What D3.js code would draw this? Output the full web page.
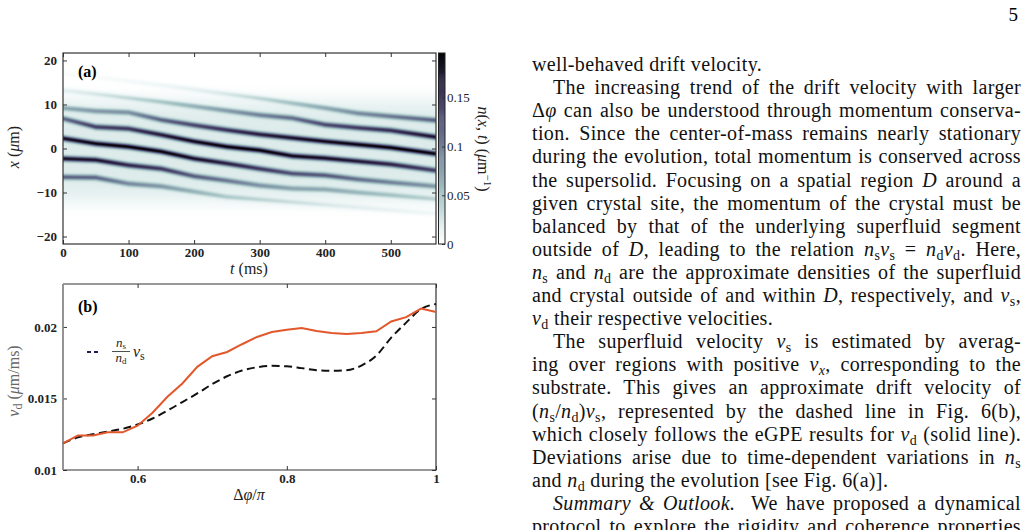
<!DOCTYPE html>
<html>
<head>
<meta charset="utf-8">
<script src="https://cdn.jsdelivr.net/npm/d3@7"></script>
<style>
  body { margin: 0; background: #fff; }
  svg { display: block; }
  text { white-space: pre; }
</style>
</head>
<body>
<svg id="page" width="1029" height="530"></svg>
<script>
"use strict";

// ---- panel (a): band tracks x (um) read at these times (ms)
var heatT  = [0, 50, 100, 150, 200, 250, 300, 350, 400, 450, 500, 569];
var bandN2 = [17.0, 16.2, 15.3, 14.4, 13.4, 12.4, 11.4, 10.3, 9.2, 8.0, 7.3, 6.4];
var bandN1 = [13.2, 12.4, 11.5, 10.6, 9.6, 8.6, 7.6, 6.9, 5.4, 4.7, 4.1, 2.6];
var bandB9 = [9.2, 8.5, 8.2, 6.5, 5.3, 4.2, 3.2, 2.4, 1.6, 0.9, 0.2, -1.2];
var bandB7 = [6.8, 4.9, 4.5, 3.1, 1.6, 0.4, -0.4, -1.7, -2.2, -2.9, -3.6, -5.0];
var bandB2 = [2.3, 1.1, 0.4, -0.7, -2.3, -3.4, -4.6, -5.7, -6.1, -7.0, -7.7, -8.6];
var bandM2 = [-2.3, -2.6, -3.8, -4.6, -6.3, -7.3, -8.4, -9.1, -9.3, -10.0, -10.6, -11.5];
var bandM6 = [-6.5, -6.6, -8.0, -8.6, -9.8, -11.0, -11.6, -12.2, -12.8, -13.4, -14.0, -14.8];
var tTicks = [0, 100, 200, 300, 400, 500];
var xTicks = [-20, -10, 0, 10, 20];
var densTicks = [0, 0.05, 0.1, 0.15];

// ---- panel (b)
var phiVals = [0.50, 0.52, 0.54, 0.56, 0.58, 0.60, 0.62, 0.64, 0.66, 0.68, 0.70, 0.72, 0.74,
               0.76, 0.78, 0.80, 0.82, 0.84, 0.86, 0.88, 0.90, 0.92, 0.94, 0.96, 0.98, 1.00];
var vdVals = [0.01186, 0.01242, 0.01242, 0.01263, 0.01263, 0.01310, 0.01400, 0.01512, 0.01605,
              0.01721, 0.01795, 0.01825, 0.01879, 0.01930, 0.01965, 0.01980, 0.01993, 0.01972,
              0.01958, 0.01950, 0.01958, 0.01970, 0.02038, 0.02068, 0.02128, 0.02104];
var vsVals = [0.01186, 0.01228, 0.01250, 0.01268, 0.01288, 0.01318, 0.01360, 0.01415, 0.01475,
              0.01535, 0.01600, 0.01655, 0.01695, 0.01718, 0.01728, 0.01725, 0.01712, 0.01698,
              0.01693, 0.01697, 0.01730, 0.01800, 0.01925, 0.02030, 0.02125, 0.02160];
var phiTicks = [0.6, 0.8, 1];
var vTicks = [0.01, 0.015, 0.02];

// ---- text column
var textLines = [
    {x: 532, just: false, segs: [["well-behaved drift velocity."]]},
    {x: 553, just: true, segs: [["The increasing trend of the drift velocity with larger"]]},
    {x: 532, just: true, segs: [["Δ"], ["φ", "i"], [" can also be understood through momentum conserva-"]]},
    {x: 532, just: true, segs: [["tion. Since the center-of-mass remains nearly stationary"]]},
    {x: 532, just: true, segs: [["during the evolution, total momentum is conserved across"]]},
    {x: 532, just: true, segs: [["the supersolid. Focusing on a spatial region "], ["D", "i"], [" around a"]]},
    {x: 532, just: true, segs: [["given crystal site, the momentum of the crystal must be"]]},
    {x: 532, just: true, segs: [["balanced by that of the underlying superfluid segment"]]},
    {x: 532, just: true, segs: [["outside of "], ["D", "i"], [", leading to the relation "], ["n", "i"], ["s", "s"], ["v", "i"], ["s", "s"],
        [" = "], ["n", "i"], ["d", "s"], ["v", "i"], ["d", "s"], [". Here,"]]},
    {x: 532, just: true, segs: [["n", "i"], ["s", "s"], [" and "], ["n", "i"], ["d", "s"], [" are the approximate densities of the superfluid"]]},
    {x: 532, just: true, segs: [["and crystal outside of and within "], ["D", "i"], [", respectively, and "], ["v", "i"], ["s", "s"], [","]]},
    {x: 532, just: false, segs: [["v", "i"], ["d", "s"], [" their respective velocities."]]},
    {x: 553, just: true, segs: [["The superfluid velocity "], ["v", "i"], ["s", "s"], [" is estimated by averag-"]]},
    {x: 532, just: true, segs: [["ing over regions with positive "], ["v", "i"], ["x", "si"], [", corresponding to the"]]},
    {x: 532, just: true, segs: [["substrate. This gives an approximate drift velocity of"]]},
    {x: 532, just: true, segs: [["("], ["n", "i"], ["s", "s"], ["/"], ["n", "i"], ["d", "s"], [")"], ["v", "i"], ["s", "s"],
        [", represented by the dashed line in Fig. 6(b),"]]},
    {x: 532, just: true, segs: [["which closely follows the eGPE results for "], ["v", "i"], ["d", "s"], [" (solid line)."]]},
    {x: 532, just: true, segs: [["Deviations arise due to time-dependent variations in "], ["n", "i"], ["s", "s"]]},
    {x: 532, just: false, segs: [["and "], ["n", "i"], ["d", "s"], [" during the evolution [see Fig. 6(a)]."]]},
    {x: 553, just: true, segs: [["Summary & Outlook.", "i"], ["  We have proposed a dynamical"]]},
    {x: 532, just: true, segs: [["protocol to explore the rigidity and coherence properties"]]}
];

var serif = "'Liberation Serif', 'DejaVu Serif', serif";
var svg = d3.select("#page");

//Page number
svg.append("text").attr("x", 1018).attr("y", 21).attr("text-anchor", "end")
    .style("font-family", serif).attr("font-size", 19).text("5");

//Text column, justified by widening the spaces
var col = svg.append("g").style("font-family", serif).attr("font-size", 20)
    .attr("letter-spacing", 0.35).attr("fill", "#111");
textLines.forEach(function (ln, i) {
    var t = col.append("text").attr("x", ln.x).attr("y", 71 + 23.1 * i);
    var off = 0;
    var spaces = 0;
    ln.segs.forEach(function (s) {
        var kind = s[1] || "n";
        var sp = t.append("tspan").text(s[0]);
        var sub = kind === "s" || kind === "si";
        var target = sub ? 4 : 0;
        if (target !== off) {
            sp.attr("dy", target - off);
            off = target;
        }
        if (kind === "i" || kind === "si") sp.attr("font-style", "italic");
        if (sub) sp.attr("font-size", 14);
        spaces += (s[0].match(/ /g) || []).length;
    });
    if (ln.just && spaces > 0) {
        var w = t.node().getComputedTextLength();
        t.attr("word-spacing", (1021 - ln.x - w) / spaces);
    }
});

// ================= panel (a) =================
var ax = {x0: 63, x1: 436, y0: 53, y1: 244};
var tScale = d3.scaleLinear().domain([0, 569]).range([ax.x0, ax.x1]);
var xScale = d3.scaleLinear().domain([-21.7, 21.7]).range([ax.y1, ax.y0]);
var densColor = d3.scaleLinear()
    .domain([0, 0.02, 0.05, 0.09, 0.12, 0.15, 0.175, 0.2])
    .range(["#ffffff", "#e2eeee", "#a8c6c7", "#7c8ea3", "#5d6283", "#433c62", "#231d35", "#000000"])
    .clamp(true);

var bands = [bandN2, bandN1, bandB9, bandB7, bandB2, bandM2, bandM6];
var tracks = bands.map(function (b) {
    return d3.scaleLinear().domain(heatT).range(b);
});
function haze(x) {
    return 0.022 * Math.exp(-Math.pow(Math.abs(x + 0.5) / 12, 6));
}
function bandPeak(p) {
    return 0.175 * Math.exp(-Math.pow(p / 8.5, 2));
}

var cw = ax.x1 - ax.x0, ch = ax.y1 - ax.y0;
var canvas = document.createElement("canvas");
canvas.width = cw;
canvas.height = ch;
var ctx = canvas.getContext("2d");
var img = ctx.createImageData(cw, ch);
for (var i = 0; i < cw; i++) {
    var tt = tScale.invert(ax.x0 + i + 0.5);
    var pos = tracks.map(function (s) { return s(tt); });
    for (var j = 0; j < ch; j++) {
        var xv = xScale.invert(ax.y0 + j + 0.5);
        var v = haze(xv);
        for (var k = 0; k < pos.length; k++) {
            var d = (xv - pos[k]) / 0.42;
            v += bandPeak(pos[k]) * Math.exp(-0.5 * d * d);
        }
        var c = d3.rgb(densColor(v));
        var o = (j * cw + i) * 4;
        img.data[o] = c.r;
        img.data[o + 1] = c.g;
        img.data[o + 2] = c.b;
        img.data[o + 3] = 255;
    }
}
ctx.putImageData(img, 0, 0);

var pa = svg.append("g");
pa.append("image").attr("x", ax.x0).attr("y", ax.y0).attr("width", cw).attr("height", ch)
    .attr("preserveAspectRatio", "none").attr("href", canvas.toDataURL());

function styleAxis(g, bold) {
    g.attr("font-family", null);
    g.select(".domain").remove();
    g.selectAll("line").attr("stroke", "#333");
    g.selectAll("text").style("font-family", serif).attr("font-size", 13)
        .attr("font-weight", bold ? "bold" : "normal").attr("fill", "#222");
}

pa.append("g").attr("transform", "translate(" + ax.x0 + ",0)")
    .call(d3.axisLeft(xScale).tickValues(xTicks).tickSize(-4).tickPadding(6).tickFormat(d3.format("d")))
    .call(styleAxis, true);
pa.append("g").attr("transform", "translate(" + ax.x1 + ",0)")
    .call(d3.axisRight(xScale).tickValues(xTicks).tickSize(-4).tickFormat(""))
    .call(styleAxis, true);
pa.append("g").attr("transform", "translate(0," + ax.y1 + ")")
    .call(d3.axisBottom(tScale).tickValues(tTicks).tickSize(-4).tickPadding(4))
    .call(styleAxis, true);
pa.append("g").attr("transform", "translate(0," + ax.y0 + ")")
    .call(d3.axisTop(tScale).tickValues(tTicks).tickSize(-4).tickFormat(""))
    .call(styleAxis, true);
pa.append("rect").attr("x", ax.x0).attr("y", ax.y0).attr("width", cw).attr("height", ch)
    .attr("fill", "none").attr("stroke", "#333").attr("stroke-width", 1.2);

pa.append("text").attr("x", 78).attr("y", 77).style("font-family", serif)
    .attr("font-weight", "bold").attr("font-size", 16).text("(a)");

var xl = pa.append("text").attr("transform", "translate(19,147) rotate(-90)")
    .attr("text-anchor", "middle").style("font-family", serif).attr("font-size", 16).attr("fill", "#222");
xl.append("tspan").attr("font-style", "italic").text("x");
xl.append("tspan").text(" (");
xl.append("tspan").attr("font-style", "italic").text("μ");
xl.append("tspan").text("m)");

var tl = pa.append("text").attr("x", 249).attr("y", 274).attr("text-anchor", "middle")
    .style("font-family", serif).attr("font-size", 16).attr("fill", "#222");
tl.append("tspan").attr("font-style", "italic").text("t");
tl.append("tspan").text(" (ms)");

//Colorbar
var cb = {x0: 438.5, x1: 445};
var cbScale = d3.scaleLinear().domain([0, 0.196]).range([ax.y1, ax.y0]);
var cbSteps = d3.range(0, 0.196, 0.001);
pa.append("g").selectAll("rect").data(cbSteps).enter().append("rect")
    .attr("x", cb.x0).attr("width", cb.x1 - cb.x0)
    .attr("y", function (d) { return cbScale(d + 0.001); })
    .attr("height", function (d) { return cbScale(d) - cbScale(d + 0.001) + 0.5; })
    .attr("fill", function (d) { return densColor(d + 0.0005); });
pa.append("g").attr("transform", "translate(" + cb.x1 + ",0)")
    .call(d3.axisRight(cbScale).tickValues(densTicks).tickSize(-3).tickPadding(2)
        .tickFormat(function (d) { return String(d); }))
    .call(styleAxis, false);
pa.append("rect").attr("x", cb.x0).attr("y", ax.y0).attr("width", cb.x1 - cb.x0).attr("height", ch)
    .attr("fill", "none").attr("stroke", "#222").attr("stroke-width", 1);

var cl = pa.append("text").attr("transform", "translate(478,149) rotate(90)")
    .attr("text-anchor", "middle").style("font-family", serif).attr("font-size", 16).attr("fill", "#222");
cl.append("tspan").attr("font-style", "italic").text("n");
cl.append("tspan").text("(");
cl.append("tspan").attr("font-style", "italic").text("x");
cl.append("tspan").text(", ");
cl.append("tspan").attr("font-style", "italic").text("t");
cl.append("tspan").text(") (");
cl.append("tspan").attr("font-style", "italic").text("μ");
cl.append("tspan").text("m");
cl.append("tspan").attr("font-size", 11).attr("dy", -6).text("−1");
cl.append("tspan").attr("dy", 6).text(")");

// ================= panel (b) =================
var bx = {x0: 63, x1: 436, y0: 284, y1: 470};
var phiScale = d3.scaleLinear().domain([0.5, 1]).range([bx.x0, bx.x1]);
var vScale = d3.scaleLinear().domain([0.01, 0.023]).range([bx.y1, bx.y0]);
var pb = svg.append("g");

pb.append("g").attr("transform", "translate(" + bx.x0 + ",0)")
    .call(d3.axisLeft(vScale).tickValues(vTicks).tickSize(-4).tickPadding(6)
        .tickFormat(function (d) { return String(+d.toFixed(3)); }))
    .call(styleAxis, true);
pb.append("g").attr("transform", "translate(" + bx.x1 + ",0)")
    .call(d3.axisRight(vScale).tickValues(vTicks).tickSize(-4).tickFormat(""))
    .call(styleAxis, true);
pb.append("g").attr("transform", "translate(0," + bx.y1 + ")")
    .call(d3.axisBottom(phiScale).tickValues(phiTicks).tickSize(-4).tickPadding(4)
        .tickFormat(function (d) { return String(d); }))
    .call(styleAxis, true);
pb.append("g").attr("transform", "translate(0," + bx.y0 + ")")
    .call(d3.axisTop(phiScale).tickValues(phiTicks).tickSize(-4).tickFormat(""))
    .call(styleAxis, true);

//Frame: left spine is grey in the reference
pb.append("path").attr("d", "M" + bx.x0 + "," + bx.y0 + "H" + bx.x1 + "V" + bx.y1 + "H" + bx.x0)
    .attr("fill", "none").attr("stroke", "#333").attr("stroke-width", 1.2);
pb.append("line").attr("x1", bx.x0).attr("x2", bx.x0).attr("y1", bx.y0).attr("y2", bx.y1)
    .attr("stroke", "#888").attr("stroke-width", 1.8);

var solid = d3.line()
    .x(function (d, i) { return phiScale(phiVals[i]); })
    .y(function (d) { return vScale(d); });
var dashed = d3.line()
    .x(function (d, i) { return phiScale(phiVals[i]); })
    .y(function (d) { return vScale(d); })
    .curve(d3.curveMonotoneX);

pb.append("path").attr("d", dashed(vsVals)).attr("fill", "none")
    .attr("stroke", "#111").attr("stroke-width", 2).attr("stroke-dasharray", "8,4.5");
pb.append("path").attr("d", solid(vdVals)).attr("fill", "none")
    .attr("stroke", "#e2582a").attr("stroke-width", 2);

pb.append("text").attr("x", 78).attr("y", 312).style("font-family", serif)
    .attr("font-weight", "bold").attr("font-size", 16).text("(b)");

//Legend
pb.append("line").attr("x1", 87).attr("x2", 98).attr("y1", 352).attr("y2", 352)
    .attr("stroke", "#1c1f4f").attr("stroke-width", 2).attr("stroke-dasharray", "4,3");
var lg = pb.append("g").style("font-family", serif).attr("fill", "#222");
var num = lg.append("text").attr("x", 121).attr("y", 347).attr("text-anchor", "middle").attr("font-size", 13);
num.append("tspan").attr("font-style", "italic").text("n");
num.append("tspan").attr("font-size", 9).attr("dy", 2).text("s");
lg.append("line").attr("x1", 112).attr("x2", 130).attr("y1", 351.5).attr("y2", 351.5)
    .attr("stroke", "#222").attr("stroke-width", 0.8);
var den = lg.append("text").attr("x", 121).attr("y", 362).attr("text-anchor", "middle").attr("font-size", 13);
den.append("tspan").attr("font-style", "italic").text("n");
den.append("tspan").attr("font-size", 9).attr("dy", 2).text("d");
var vsl = lg.append("text").attr("x", 133).attr("y", 357).attr("font-size", 16);
vsl.append("tspan").attr("font-style", "italic").text("v");
vsl.append("tspan").attr("font-size", 12).attr("dy", 3).text("s");

var vl = pb.append("text").attr("transform", "translate(19,381) rotate(-90)")
    .attr("text-anchor", "middle").style("font-family", serif).attr("font-size", 16).attr("fill", "#666");
vl.append("tspan").attr("font-style", "italic").text("v");
vl.append("tspan").attr("font-size", 12).attr("dy", 3).text("d");
vl.append("tspan").attr("dy", -3).text(" (");
vl.append("tspan").attr("font-style", "italic").text("μ");
vl.append("tspan").text("m/ms)");

var pl = pb.append("text").attr("x", 249).attr("y", 500).attr("text-anchor", "middle")
    .style("font-family", serif).attr("font-size", 16).attr("fill", "#222");
pl.append("tspan").text("Δ");
pl.append("tspan").attr("font-style", "italic").text("φ");
pl.append("tspan").text("/");
pl.append("tspan").attr("font-style", "italic").text("π");
</script>
</body>
</html>
